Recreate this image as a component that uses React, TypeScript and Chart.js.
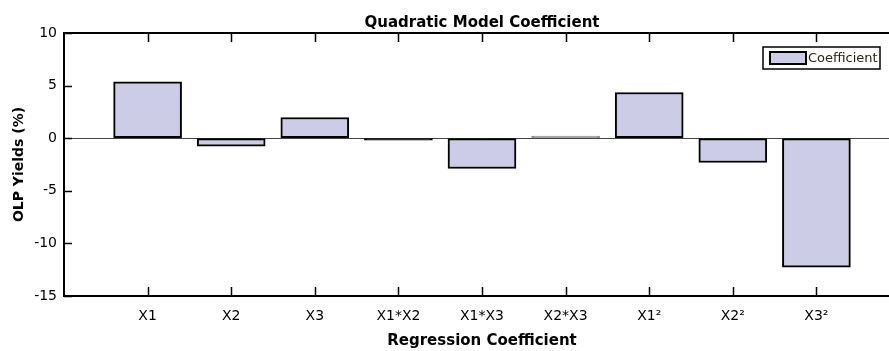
import { useEffect, useRef } from "react";
import { Chart, registerables } from "chart.js";

Chart.register(...registerables);

// Regression terms; the blank entries pad the axis so each term sits on a whole slot.
const categories = ["", "X1", "X2", "X3", "X1*X2", "X1*X3", "X2*X3", "X1²", "X2²", "X3²", ""];
const coefficients: (number | null)[] = [null, 5.35, -0.75, 1.97, -0.15, -2.88, 0.07, 4.34, -2.31, -12.25, null];
const yTicks = [10, 5, 0, -5, -10, -15];

const seriesLabel = "Coefficient";
const chartTitle = "Quadratic Model Coefficient";
const xTitle = "Regression Coefficient";
const yTitle = "OLP Yields (%)";

const FONT = "'DejaVu Sans', 'Liberation Sans', Arial, sans-serif";
const BAR_FILL = "#CCCCE6";

// Near-zero bars collapse to a sliver of their outline colour.
const edgeColour = (v: unknown) =>
  typeof v === "number" && v > 0 && v < 0.1 ? "#8c8c8c" : "#000";
const isSliver = (v: unknown) => typeof v === "number" && Math.abs(v) < 0.2;

// Closes the box on top, adds inward tick marks and draws the framed legend.
const framePlugin = {
  id: "frame",
  afterDraw(chart: any) {
    const { ctx, chartArea } = chart;
    const { left, right, top, bottom } = chartArea;
    const xs = chart.scales.x;
    const ys = chart.scales.y;
    ctx.save();
    ctx.strokeStyle = "#000";
    ctx.lineWidth = 2;
    ctx.beginPath();
    ctx.moveTo(left - 1, top);
    ctx.lineTo(right, top);
    ctx.stroke();

    ctx.lineWidth = 1.5;
    ctx.beginPath();
    xs.ticks.forEach((t: any, i: number) => {
      if (!categories[t.value]) return;
      const px = Math.round(xs.getPixelForTick(i)) + 0.5;
      ctx.moveTo(px, bottom);
      ctx.lineTo(px, bottom - 9);
      ctx.moveTo(px, top);
      ctx.lineTo(px, top + 9);
    });
    ys.ticks.forEach((_t: any, i: number) => {
      const py = Math.round(ys.getPixelForTick(i)) + 0.5;
      ctx.moveTo(left, py);
      ctx.lineTo(left + 8, py);
    });
    ctx.stroke();

    // legend
    const ds = chart.data.datasets[0];
    const bw = 117;
    const bh = 22;
    const bx = right - 20 - bw;
    const by = top + 14;
    ctx.fillStyle = "#fff";
    ctx.fillRect(bx, by, bw, bh);
    ctx.lineWidth = 1.5;
    ctx.strokeStyle = "#000";
    ctx.strokeRect(bx, by, bw, bh);
    ctx.fillStyle = BAR_FILL;
    ctx.fillRect(bx + 7, by + 5, 36, 12);
    ctx.lineWidth = 2;
    ctx.strokeRect(bx + 7, by + 5, 36, 12);
    ctx.fillStyle = "#2a2412";
    ctx.font = `13px ${FONT}`;
    ctx.textAlign = "left";
    ctx.textBaseline = "middle";
    ctx.fillText(ds.label, bx + 45, by + bh / 2 + 0.5);
    ctx.restore();
  },
};

export default function App() {
  const canvasRef = useRef<HTMLCanvasElement | null>(null);

  useEffect(() => {
    if (!canvasRef.current) return;
    const chart = new Chart(canvasRef.current, {
      type: "bar",
      data: {
        labels: categories,
        datasets: [
          {
            label: seriesLabel,
            data: coefficients,
            backgroundColor: (c: any) => (isSliver(c.raw) ? edgeColour(c.raw) : BAR_FILL),
            borderColor: (c: any) => edgeColour(c.raw),
            borderWidth: 2,
            borderSkipped: false,
            barThickness: 68,
            minBarLength: 2,
          },
        ],
      },
      options: {
        animation: false,
        responsive: true,
        maintainAspectRatio: false,
        layout: { padding: 0 },
        plugins: {
          legend: { display: false },
          tooltip: { enabled: false },
          title: {
            display: true,
            text: chartTitle,
            fullSize: false,
            color: "#000",
            font: { family: FONT, size: 15, weight: "bold", lineHeight: 1.2 },
            padding: { top: 14, bottom: 1 },
          },
        },
        scales: {
          x: {
            type: "category",
            offset: false,
            grid: { display: false, drawTicks: false, offset: false },
            border: { display: true, color: "#000", width: 2 },
            ticks: {
              autoSkip: false,
              maxRotation: 0,
              padding: 12,
              color: "#000",
              font: { family: FONT, size: 14 },
            },
            title: {
              display: true,
              text: xTitle,
              color: "#000",
              font: { family: FONT, size: 15, weight: "bold", lineHeight: 1.2 },
              padding: { top: 0, bottom: 1 },
            },
            afterFit: (s: any) => {
              s.height = 55;
            },
          },
          y: {
            type: "linear",
            min: -15,
            max: 10,
            afterBuildTicks: (s: any) => {
              s.ticks = yTicks.map((v) => ({ value: v }));
            },
            ticks: {
              padding: 7,
              color: "#000",
              font: { family: FONT, size: 14 },
            },
            grid: {
              drawTicks: false,
              lineWidth: 1,
              color: (c: any) => (c.tick && c.tick.value === 0 ? "#444" : "rgba(0,0,0,0)"),
            },
            border: { display: true, color: "#000", width: 2 },
            title: {
              display: true,
              text: yTitle,
              color: "#000",
              font: { family: FONT, size: 14, weight: "bold", lineHeight: 1.2 },
              padding: { top: 11, bottom: 0 },
            },
            afterFit: (s: any) => {
              s.width = 64;
            },
          },
        },
      },
      plugins: [framePlugin],
    });
    return () => chart.destroy();
  }, []);

  return (
    <div
      style={{
        position: "absolute",
        left: 0,
        top: 0,
        width: 889,
        height: 351,
        overflow: "hidden",
        background: "#fff",
      }}
    >
      <div style={{ position: "relative", width: 912, height: 351 }}>
        <canvas ref={canvasRef} />
      </div>
    </div>
  );
}
